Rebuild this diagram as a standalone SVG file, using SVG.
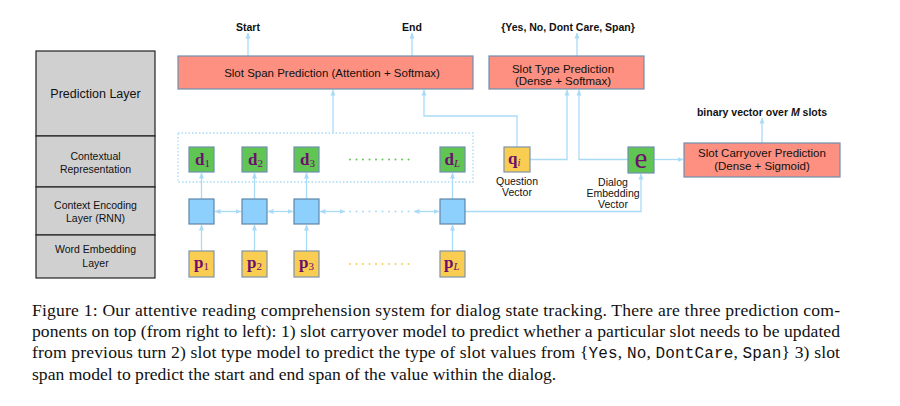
<svg xmlns="http://www.w3.org/2000/svg" width="900" height="406" viewBox="0 0 900 406">
<defs>
<marker id="ah" viewBox="0 0 6 6" refX="5.5" refY="3" markerWidth="6" markerHeight="6" orient="auto-start-reverse" markerUnits="userSpaceOnUse">
<path d="M0,0.5 L6,3 L0,5.5 Z" fill="#a9dbf7"/>
</marker>
<style>
.sans{font-family:"Liberation Sans",Arial,sans-serif;fill:#111}
.layer{fill:#d0d0d0;stroke:#222;stroke-width:1.2}
.pred{fill:#fd9080;stroke:#6f8fb0;stroke-width:1.2}
.green{fill:#61c553;stroke:#6f8fb0;stroke-width:1.2}
.blue{fill:#8dd0fd;stroke:#5f86a8;stroke-width:1.2}
.yellow{fill:#f9cd52;stroke:#7f93a8;stroke-width:1.2}
.conn{fill:none;stroke:#a9dbf7;stroke-width:1.3}
.math{font-family:"Liberation Serif","Times New Roman",serif;fill:#6d0e6d;font-weight:bold;font-size:17px}
.cap{font-family:"Liberation Serif","Times New Roman",serif;font-size:17.6px;fill:#111}
.mono{font-family:"Liberation Mono","Courier New",monospace;font-size:16px;font-weight:300}
.lbl{font-size:10.5px}
.bold{font-weight:bold;font-size:10.5px}
</style>
</defs>
<rect width="900" height="406" fill="#fff"/>

<g id="layers">
<g id="layer-prediction"><rect class="layer" x="36" y="51" width="119" height="85"/><text class="sans" x="95.5" y="97.5" font-size="12.5" text-anchor="middle">Prediction Layer</text></g>
<g id="layer-contextual"><rect class="layer" x="36" y="136" width="119" height="51"/><text class="sans" x="95.5" y="160" font-size="10.5" text-anchor="middle">Contextual</text><text class="sans" x="95.5" y="172.5" font-size="10.5" text-anchor="middle">Representation</text></g>
<g id="layer-encoding"><rect class="layer" x="36" y="187" width="119" height="48"/><text class="sans" x="95.5" y="209" font-size="10.5" text-anchor="middle">Context Encoding</text><text class="sans" x="95.5" y="222" font-size="10.5" text-anchor="middle">Layer (RNN)</text></g>
<g id="layer-embedding"><rect class="layer" x="36" y="235" width="119" height="43"/><text class="sans" x="95.5" y="253" font-size="10.5" text-anchor="middle">Word Embedding</text><text class="sans" x="95.5" y="267" font-size="10.5" text-anchor="middle">Layer</text></g>
</g>

<g id="connectors">
<line class="conn" x1="248" y1="56" x2="248" y2="33" marker-end="url(#ah)"/>
<line class="conn" x1="412" y1="56" x2="412" y2="33" marker-end="url(#ah)"/>
<line class="conn" x1="577" y1="56" x2="577" y2="33" marker-end="url(#ah)"/>
<line class="conn" x1="762" y1="143" x2="762" y2="118" marker-end="url(#ah)"/>
<line class="conn" x1="333" y1="133" x2="333" y2="90" marker-end="url(#ah)"/>
<path class="conn" d="M517,147 V116 H424 V90" marker-end="url(#ah)"/>
<path class="conn" d="M530,159.5 H567 V90" marker-end="url(#ah)"/>
<path class="conn" d="M628,159.5 H579 V90" marker-end="url(#ah)"/>
<line class="conn" x1="654" y1="159.5" x2="683" y2="159.5" marker-end="url(#ah)"/>
<path class="conn" d="M465,211.5 H641 V174" marker-end="url(#ah)"/>
<line class="conn" x1="201.5" y1="251" x2="201.5" y2="225" marker-end="url(#ah)"/>
<line class="conn" x1="254.5" y1="251" x2="254.5" y2="225" marker-end="url(#ah)"/>
<line class="conn" x1="306.5" y1="251" x2="306.5" y2="225" marker-end="url(#ah)"/>
<line class="conn" x1="452.5" y1="251" x2="452.5" y2="225" marker-end="url(#ah)"/>
<line class="conn" x1="201.5" y1="199" x2="201.5" y2="173" marker-end="url(#ah)"/>
<line class="conn" x1="254.5" y1="199" x2="254.5" y2="173" marker-end="url(#ah)"/>
<line class="conn" x1="306.5" y1="199" x2="306.5" y2="173" marker-end="url(#ah)"/>
<line class="conn" x1="452.5" y1="199" x2="452.5" y2="173" marker-end="url(#ah)"/>
<line class="conn" x1="215" y1="211.5" x2="241" y2="211.5" marker-start="url(#ah)" marker-end="url(#ah)"/>
<line class="conn" x1="268" y1="211.5" x2="293" y2="211.5" marker-start="url(#ah)" marker-end="url(#ah)"/>
<line class="conn" x1="320" y1="211.5" x2="345" y2="211.5" marker-start="url(#ah)" marker-end="url(#ah)"/>
<line class="conn" x1="414" y1="211.5" x2="439" y2="211.5" marker-start="url(#ah)" marker-end="url(#ah)"/>
<line x1="350" y1="211.5" x2="410" y2="211.5" stroke="#a9dbf7" stroke-width="2" stroke-linecap="round" stroke-dasharray="0 6.5"/>
</g>

<g id="span-pred"><rect class="pred" x="178" y="56" width="295" height="33"/><text class="sans" x="332" y="77" font-size="11.5" text-anchor="middle">Slot Span Prediction (Attention + Softmax)</text></g>
<g id="type-pred"><rect class="pred" x="489" y="56" width="155" height="33"/><text class="sans" x="563" y="72.5" font-size="11.5" text-anchor="middle">Slot Type Prediction</text><text class="sans" x="563" y="85" font-size="11.5" text-anchor="middle">(Dense + Softmax)</text></g>
<g id="carry-pred"><rect class="pred" x="684" y="143" width="156" height="34"/><text class="sans" x="762" y="157" font-size="11.5" text-anchor="middle">Slot Carryover Prediction</text><text class="sans" x="762" y="170" font-size="11.5" text-anchor="middle">(Dense + Sigmoid)</text></g>

<g id="labels">
<text class="sans bold" x="248" y="31" text-anchor="middle">Start</text>
<text class="sans bold" x="412" y="31" text-anchor="middle">End</text>
<text class="sans bold" x="568" y="31" text-anchor="middle">{Yes, No, Dont Care, Span}</text>
<text class="sans bold" x="762" y="116" text-anchor="middle">binary vector over <tspan font-style="italic">M</tspan> slots</text>
</g>

<g id="context-box"><rect x="178" y="133" width="295" height="49" fill="none" stroke="#a9dbf7" stroke-width="1.3" stroke-dasharray="1.5 2"/></g>

<g id="d1"><rect class="green" x="189" y="147" width="25" height="25"/><text class="math" x="195" y="164.5">d<tspan font-size="11" dy="2" font-weight="normal">1</tspan></text></g>
<g id="d2"><rect class="green" x="242" y="147" width="25" height="25"/><text class="math" x="248" y="164.5">d<tspan font-size="11" dy="2" font-weight="normal">2</tspan></text></g>
<g id="d3"><rect class="green" x="294" y="147" width="25" height="25"/><text class="math" x="300" y="164.5">d<tspan font-size="11" dy="2" font-weight="normal">3</tspan></text></g>
<g id="dL"><rect class="green" x="440" y="147" width="25" height="25"/><text class="math" x="444.5" y="164.5">d<tspan font-size="11" dy="2" font-weight="normal" font-style="italic">L</tspan></text></g>
<line x1="350" y1="159.5" x2="412" y2="159.5" stroke="#61c553" stroke-width="2" stroke-linecap="round" stroke-dasharray="0 6.5"/>

<g id="h1"><rect class="blue" x="189" y="199" width="25" height="25"/></g>
<g id="h2"><rect class="blue" x="242" y="199" width="25" height="25"/></g>
<g id="h3"><rect class="blue" x="294" y="199" width="25" height="25"/></g>
<g id="hL"><rect class="blue" x="440" y="199" width="25" height="25"/></g>

<g id="p1"><rect class="yellow" x="189" y="251" width="25" height="26"/><text class="math" x="194" y="268">p<tspan font-size="11" dy="2" font-weight="normal">1</tspan></text></g>
<g id="p2"><rect class="yellow" x="242" y="251" width="25" height="26"/><text class="math" x="247" y="268">p<tspan font-size="11" dy="2" font-weight="normal">2</tspan></text></g>
<g id="p3"><rect class="yellow" x="294" y="251" width="25" height="26"/><text class="math" x="299" y="268">p<tspan font-size="11" dy="2" font-weight="normal">3</tspan></text></g>
<g id="pL"><rect class="yellow" x="440" y="251" width="25" height="26"/><text class="math" x="444" y="268">p<tspan font-size="11" dy="2" font-weight="normal" font-style="italic">L</tspan></text></g>
<line x1="350" y1="264" x2="412" y2="264" stroke="#f9cd52" stroke-width="2" stroke-linecap="round" stroke-dasharray="0 6.5"/>

<g id="qi"><rect class="yellow" x="504" y="147" width="26" height="25"/><text class="math" x="508" y="163.5">q<tspan font-size="11" dy="2" font-weight="normal" font-style="italic">i</tspan></text><text class="sans lbl" x="517" y="185" text-anchor="middle">Question</text><text class="sans lbl" x="517" y="196" text-anchor="middle">Vector</text></g>
<g id="e"><rect class="green" x="628" y="147" width="26" height="26"/><text x="641" y="168" text-anchor="middle" font-family="Liberation Serif,serif" font-size="29" fill="#6d0e6d">e</text><text class="sans lbl" x="613" y="186" text-anchor="middle">Dialog</text><text class="sans lbl" x="613" y="197" text-anchor="middle">Embedding</text><text class="sans lbl" x="613" y="208" text-anchor="middle">Vector</text></g>

<g id="caption">
<text class="cap" x="32" y="316" textLength="808" lengthAdjust="spacing">Figure 1: Our attentive reading comprehension system for dialog state tracking. There are three prediction com-</text>
<text class="cap" x="32" y="337" textLength="808" lengthAdjust="spacing">ponents on top (from right to left): 1) slot carryover model to predict whether a particular slot needs to be updated</text>
<text class="cap" x="32" y="358" textLength="808" lengthAdjust="spacing">from previous turn 2) slot type model to predict the type of slot values from {<tspan class="mono">Yes</tspan>, <tspan class="mono">No</tspan>, <tspan class="mono">DontCare</tspan>, <tspan class="mono">Span</tspan>} 3) slot</text>
<text class="cap" x="32" y="380">span model to predict the start and end span of the value within the dialog.</text>
</g>
</svg>
